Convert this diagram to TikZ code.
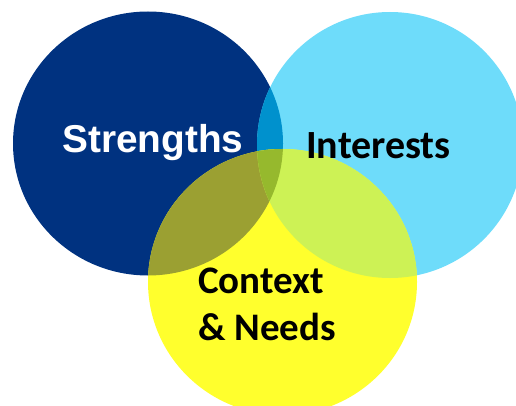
\documentclass[tikz,border=0pt]{standalone}
\usepackage{fontspec}
\setmainfont{Carlito}
\newfontfamily\arialfont{Liberation Sans}
\definecolor{dblue}{RGB}{0,50,128}
\definecolor{lblue}{RGB}{110,220,250}
\definecolor{ylw}{RGB}{255,255,45}
\definecolor{dl}{RGB}{0,145,205}
\definecolor{yd}{RGB}{155,160,50}
\definecolor{yl}{RGB}{205,242,85}
\definecolor{ydl}{RGB}{150,185,45}
\begin{document}
\begin{tikzpicture}[x=1pt,y=-1pt,
  lbl/.style={font=\bfseries\fontsize{39}{47}\selectfont,inner sep=0pt}]
\useasboundingbox (0,0) rectangle (516,406);
\begin{scope}
\clip (0,0) rectangle (516,406);
\def\Dpath{(148,143.5) ellipse [x radius=135, y radius=132]}
\def\Lpath{(390,145) ellipse [x radius=133, y radius=133]}
\def\Ypath{(282.5,282) ellipse [x radius=134.5, y radius=133]}
\fill[dblue] \Dpath;
\fill[lblue] \Lpath;
\begin{scope}\clip \Dpath; \fill[dl] \Lpath; \end{scope}
\fill[ylw] \Ypath;
\begin{scope}\clip \Ypath; \fill[yd] \Dpath; \fill[yl] \Lpath;
  \clip \Dpath; \fill[ydl] \Lpath; \end{scope}
\end{scope}
\node[lbl,font=\arialfont\bfseries\fontsize{38.8}{44}\selectfont,text=white,anchor=base] (str) at (153,153) {Strengths};
\node[lbl,font=\bfseries\fontsize{40}{44}\selectfont,anchor=base] (int) at (378.5,159) {Interests};
\node[lbl,align=left,anchor=base west] (ctx) at (198,340) {Context\\\& Needs};
\end{tikzpicture}
\end{document}
